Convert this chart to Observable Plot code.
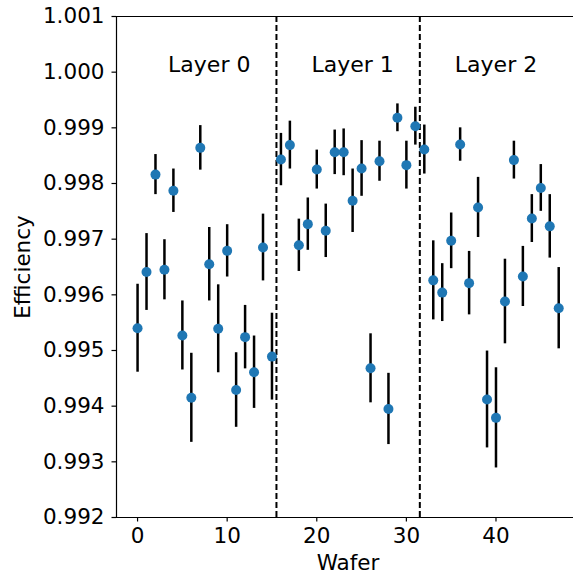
<!DOCTYPE html>
<html><head><meta charset="utf-8">
<script src="https://cdn.jsdelivr.net/npm/d3@7"></script>
<script src="https://cdn.jsdelivr.net/npm/@observablehq/plot@0.6"></script>
<style>body{margin:0;background:#fff} svg{display:block}</style>
</head><body><div id="chart"></div>
<script>
const wafers = [0,1,2,3,4,5,6,7,8,9,10,11,12,13,14,15,16,17,18,19,20,21,22,23,24,25,26,27,28,29,30,31,32,33,34,35,36,37,38,39,40,41,42,43,44,45,46,47];
const efficiency = [0.99540,0.99641,0.99816,0.99645,0.99787,0.99527,0.99415,0.99864,0.99655,0.99539,0.99679,0.99429,0.99524,0.99461,0.99685,0.99489,
  0.99843,0.99869,0.99689,0.99727,0.99825,0.99715,0.99856,0.99856,0.99769,0.99827,0.99468,0.99840,0.99395,0.99918,0.99833,0.99903,
  0.99861,0.99626,0.99604,0.99697,0.99870,0.99621,0.99757,0.99412,0.99379,0.99588,0.99842,0.99633,0.99737,0.99792,0.99723,0.99576];
const errors = [0.00079,0.00069,0.00036,0.00054,0.00039,0.00062,0.00080,0.00040,0.00066,0.00079,0.00047,0.00067,0.00057,0.00065,0.00060,0.00078,
  0.00047,0.00043,0.00047,0.00047,0.00035,0.00048,0.00040,0.00042,0.00057,0.00050,0.00062,0.00036,0.00064,0.00025,0.00043,0.00034,
  0.00044,0.00071,0.00052,0.00050,0.00030,0.00057,0.00054,0.00087,0.00090,0.00076,0.00034,0.00054,0.00043,0.00042,0.00057,0.00073];
const layerNames = ["Layer 0", "Layer 1", "Layer 2"];
const layerCenters = [8, 24, 40];
const layerLabelY = 1.000;
const layerBoundaries = [15.5, 31.5];
const xTicks = [0, 10, 20, 30, 40];
const yTicks = [0.992, 0.993, 0.994, 0.995, 0.996, 0.997, 0.998, 0.999, 1.000, 1.001];
const xDomain = [-2.35, 48.65];
const yDomain = [0.992, 1.001];

const data = wafers.map((w, i) => ({wafer: w, eff: efficiency[i], lo: efficiency[i] - errors[i], hi: efficiency[i] + errors[i]}));
const layers = layerNames.map((n, i) => ({name: n, x: layerCenters[i], y: layerLabelY}));

const chart = Plot.plot({
  width: 573, height: 574,
  marginLeft: 116, marginRight: 0, marginTop: 16, marginBottom: 57,
  style: {fontFamily: "DejaVu Sans", fontSize: "21.5px", color: "#000", background: "#fff"},
  x: {domain: xDomain},
  y: {domain: yDomain},
  marks: [
    Plot.ruleX(layerBoundaries, {stroke: "#000", strokeWidth: 2, strokeDasharray: "6,3"}),
    Plot.ruleX(data, {x: "wafer", y1: "lo", y2: "hi", stroke: "#000", strokeWidth: 2.5}),
    Plot.dot(data, {x: "wafer", y: "eff", r: 5, fill: "#1f77b4"}),
    Plot.text(layers, {x: "x", y: "y", text: "name", fontSize: 22, lineAnchor: "bottom", textAnchor: "middle", fill: "#000"}),
    Plot.ruleX([xDomain[0]], {stroke: "#000", strokeWidth: 1.2}),
    Plot.ruleY(yDomain, {stroke: "#000", strokeWidth: 1.2}),
    Plot.axisX(xTicks, {tickSize: 4.5, tickPadding: 6, fontSize: 21.5, label: null, stroke: "#000", strokeWidth: 1.2}),
    Plot.axisY(yTicks, {tickSize: 4.5, tickPadding: 7.5, fontSize: 21.5, tickFormat: d3.format(".3f"), label: null, stroke: "#000", strokeWidth: 1.2}),
    Plot.text(["Efficiency"], {frameAnchor: "left", rotate: -90, dx: -93, fontSize: 21.5, lineAnchor: "middle", textAnchor: "middle"}),
    Plot.text(["Wafer"], {frameAnchor: "bottom", dy: 52, dx: 3, fontSize: 21.5, lineAnchor: "bottom", textAnchor: "middle"})
  ]
});
document.getElementById("chart").appendChild(chart);
</script>
</body></html>
